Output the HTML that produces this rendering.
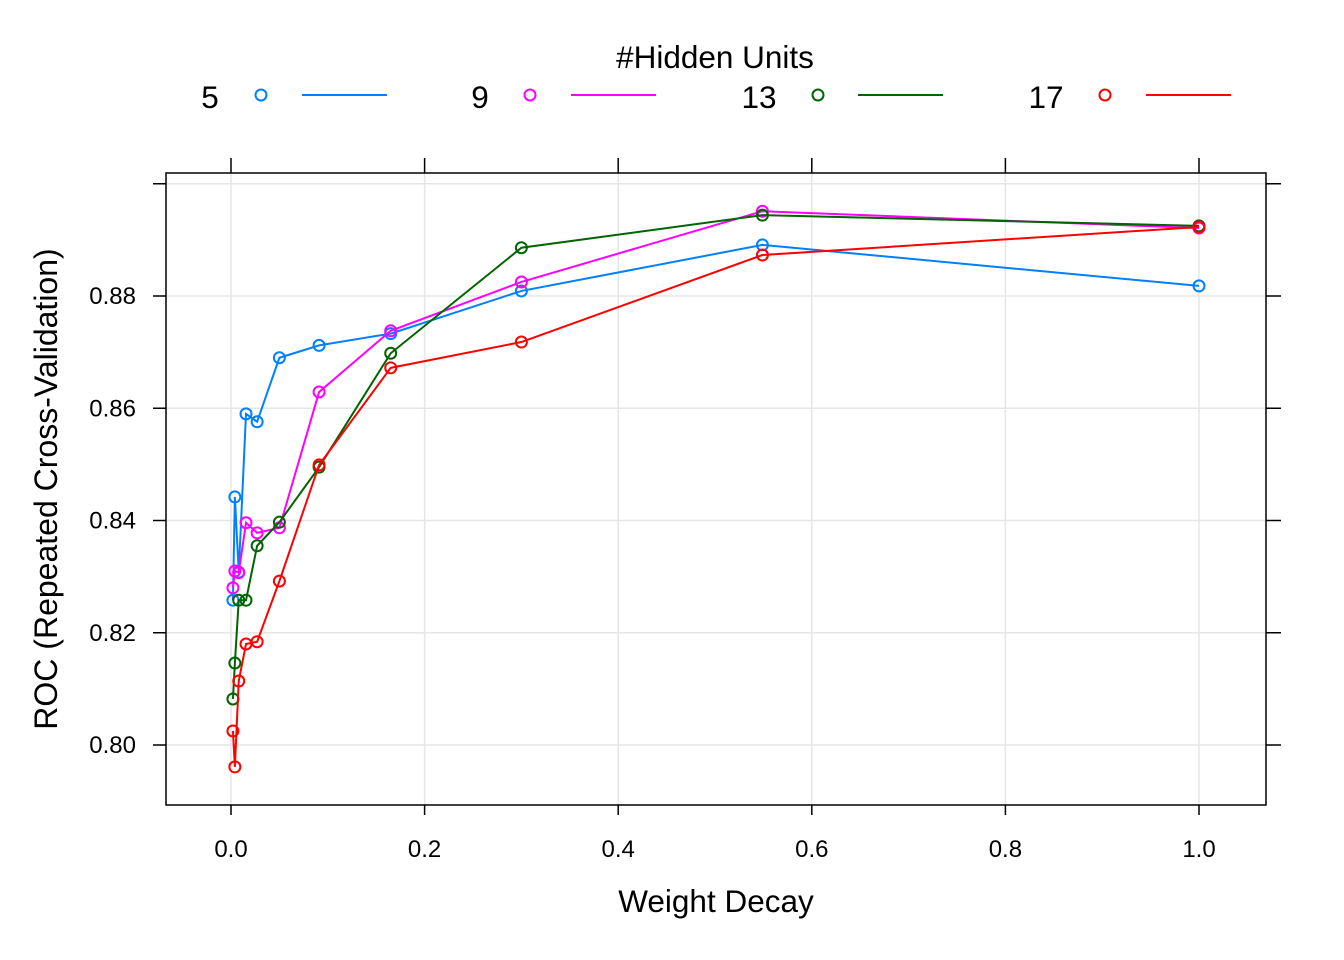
<!DOCTYPE html>
<html><head><meta charset="utf-8"><style>
body{margin:0;background:#fff;}
svg{display:block;font-family:"Liberation Sans",Arial,sans-serif;}
</style></head><body>
<svg id="chart" width="1344" height="960" xmlns="http://www.w3.org/2000/svg">
<g id="grid"></g>
<rect x="166" y="173" width="1100" height="632" fill="none" stroke="#000" stroke-width="1.5"/>
<g id="axes"></g>
<g id="series"></g>
<text x="716" y="912" font-size="31.5" text-anchor="middle">Weight Decay</text>
<text transform="translate(57,489) rotate(-90)" font-size="32" text-anchor="middle">ROC (Repeated Cross-Validation)</text>
<text x="715" y="68" font-size="31.5" text-anchor="middle">#Hidden Units</text>
<g id="legend"></g>
</svg>
<script>
const decay=[0.002,0.004,0.008,0.0155,0.027,0.05,0.091,0.165,0.30,0.549,1.0];
const units=["5","9","13","17"];
const roc5=[0.8258,0.8442,0.8308,0.8590,0.8576,0.8690,0.8712,0.8733,0.8809,0.8891,0.8818];
const roc9=[0.8280,0.8310,0.8307,0.8396,0.8378,0.8387,0.8629,0.8738,0.8825,0.8951,0.8921];
const roc13=[0.8082,0.8146,0.8258,0.8258,0.8355,0.8397,0.8495,0.8698,0.8886,0.8944,0.8925];
const roc17=[0.8025,0.7961,0.8114,0.8180,0.8184,0.8292,0.8499,0.8672,0.8718,0.8873,0.8923];
const xTicks=[0,0.2,0.4,0.6,0.8,1.0];
const xLabels=["0.0","0.2","0.4","0.6","0.8","1.0"];
const yTicks=[0.80,0.82,0.84,0.86,0.88,0.90];
const yLabels=["0.80","0.82","0.84","0.86","0.88",""];
const colors=["#0080ff","#ff00ff","#006400","#ff0000"];
const allSeries=[roc5,roc9,roc13,roc17];
const X=v=>231+v*968;
const Y=v=>296-(v-0.88)*5612.5;
const NS="http://www.w3.org/2000/svg";
function mk(t,a,p){const e=document.createElementNS(NS,t);for(const k in a)e.setAttribute(k,a[k]);p.appendChild(e);return e;}
const grid=document.getElementById('grid'),axes=document.getElementById('axes'),ser=document.getElementById('series'),leg=document.getElementById('legend');
xTicks.forEach((v,i)=>{const x=X(v);
 const g=mk('line',{x1:x,x2:x,y1:173,y2:805,stroke:'#e6e6e6','stroke-width':1.5},grid);
 
 
 const t1=mk('line',{x1:x,x2:x,y1:805,y2:815,stroke:'#000','stroke-width':1.5},axes);
 
 
 const t2=mk('line',{x1:x,x2:x,y1:158,y2:173,stroke:'#000','stroke-width':1.5},axes);
 
 
 const l=mk('text',{x:x,y:857,'font-size':24,'text-anchor':'middle'},axes);l.textContent=xLabels[i];
 
 
});
yTicks.forEach((v,i)=>{const y=Y(v);
 const g=mk('line',{x1:166,x2:1266,y1:y,y2:y,stroke:'#e6e6e6','stroke-width':1.5},grid);
 
 
 const t1=mk('line',{x1:153,x2:166,y1:y,y2:y,stroke:'#000','stroke-width':1.5},axes);
 
 
 const t2=mk('line',{x1:1266,x2:1281,y1:y,y2:y,stroke:'#000','stroke-width':1.5},axes);
 
 
 const l=mk('text',{x:136,y:y+8,'font-size':24,'text-anchor':'end'},axes);l.textContent=yLabels[i];
 
 
});
allSeries.forEach((s,k)=>{
 const g=mk('g',{},ser);
 
 
 const pl=mk('polyline',{points:s.map((v,i)=>X(decay[i])+','+Y(v)).join(' '),fill:'none',stroke:colors[k],'stroke-width':2},g);
 
 
 s.forEach((v,i)=>{const c=mk('circle',{cx:X(decay[i]),cy:Y(v),r:5.5,fill:'none',stroke:colors[k],'stroke-width':2},g);
  
  });
});
const legX=[210,480,759,1046],legC=[261,530,818,1105],legL=[302,571,858,1146];
units.forEach((u,k)=>{
 const g=mk('g',{},leg);
 
 
 const t=mk('text',{x:legX[k],y:108,'font-size':31.5,'text-anchor':'middle'},g);t.textContent=u;
 mk('circle',{cx:legC[k],cy:95,r:5.5,fill:'none',stroke:colors[k],'stroke-width':2},g);
 mk('line',{x1:legL[k],x2:legL[k]+85,y1:95,y2:95,stroke:colors[k],'stroke-width':2},g);
});
</script>
</body></html>
